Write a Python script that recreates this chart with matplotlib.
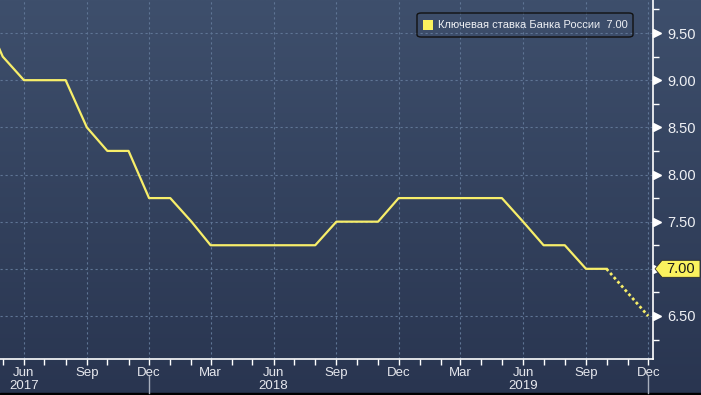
import datetime as dt
import numpy as np
import matplotlib
matplotlib.use("Agg")
import matplotlib.pyplot as plt
import matplotlib.dates as mdates
import matplotlib.transforms as mtransforms
from matplotlib.patches import FancyBboxPatch, Polygon, Rectangle

plt.rcParams['font.family'] = ['Liberation Sans Narrow', 'Liberation Sans', 'DejaVu Sans']

# ключевая ставка, помесячно (на начало месяца)
months = ["2017-04", "2017-05", "2017-06", "2017-07", "2017-08", "2017-09", "2017-10",
          "2017-11", "2017-12", "2018-01", "2018-02", "2018-03", "2018-04", "2018-05",
          "2018-06", "2018-07", "2018-08", "2018-09", "2018-10", "2018-11", "2018-12",
          "2019-01", "2019-02", "2019-03", "2019-04", "2019-05", "2019-06", "2019-07",
          "2019-08", "2019-09", "2019-10"]
rate = [9.75, 9.25, 9.00, 9.00, 9.00, 8.50, 8.25,
        8.25, 7.75, 7.75, 7.50, 7.25, 7.25, 7.25,
        7.25, 7.25, 7.25, 7.50, 7.50, 7.50, 7.75,
        7.75, 7.75, 7.75, 7.75, 7.75, 7.50, 7.25,
        7.25, 7.00, 7.00]
# прогнозная часть (пунктир)
fc_months = ["2019-10", "2019-12"]
fc_rate = [7.00, 6.50]

last_value = 7.00
legend_label = "Ключевая ставка Банка России"
yticks = [6.5, 7.0, 7.5, 8.0, 8.5, 9.0, 9.5]
year_labels = ["2017", "2018", "2019"]

def to_dates(lst):
    return [dt.datetime.strptime(m, "%Y-%m") for m in lst]

x = to_dates(months)
xf = to_dates(fc_months)

W, H = 701, 395
fig = plt.figure(figsize=(W / 100, H / 100), dpi=100)

# фон с градиентом
bg = fig.add_axes([0, 0, 1, 1], zorder=-10)
grad = np.linspace(0, 1, 256).reshape(-1, 1)
top_c = np.array([62, 79, 108]) / 255
bot_c = np.array([41, 53, 80]) / 255
img = top_c * (1 - grad[..., None]) + bot_c * grad[..., None]
img = np.repeat(img, 2, axis=1)
bg.imshow(img, aspect='auto', extent=[0, 1, 0, 1])
bg.add_patch(Rectangle((0, 0), 1, 2 / H, color='black', transform=bg.transAxes))
bg.set_axis_off()

ax = fig.add_axes([0, (H - 359) / H, 653 / W, 359 / H])
ax.patch.set_alpha(0)

ax.plot(x, rate, color='#f7ee6a', lw=1.6, zorder=3)
ax.plot(xf, fc_rate, color='#f7ee6a', lw=2.0, ls=(0, (1, 1)), zorder=3)

ax.set_xlim(dt.datetime(2017, 4, 27), dt.datetime(2019, 12, 8))
ax.set_ylim(6.044, 9.85)

# оси
for s in ['left', 'top']:
    ax.spines[s].set_visible(False)
ax.spines['bottom'].set_color('white')
ax.spines['right'].set_color('white')
ax.spines['bottom'].set_linewidth(1.2)
ax.spines['right'].set_linewidth(1.2)

ax.xaxis.set_major_locator(mdates.MonthLocator(bymonth=[3, 6, 9, 12]))
ax.xaxis.set_minor_locator(mdates.MonthLocator())
ax.xaxis.set_major_formatter(mdates.DateFormatter('%b'))
ax.tick_params(axis='x', which='both', direction='out', length=4, width=1,
               color='white', labelcolor='#e6e8ee', labelsize=9.5, pad=1.5)

ax.yaxis.tick_right()
ax.set_yticks(yticks)
ax.set_yticklabels(["%.2f" % v for v in yticks])
ax.set_yticks(np.arange(6.25, 9.8, 0.5), minor=True)
ax.tick_params(axis='y', which='major', length=0, pad=10, labelcolor='#eef0f4', labelsize=10.5)
ax.tick_params(axis='y', which='minor', direction='out', length=4, width=1, color='white')

ax.grid(True, which='major', color='#5f7595', ls=(0, (2, 2.5)), lw=0.8)

# треугольные метки делений справа
tr = mtransforms.blended_transform_factory(ax.transAxes, ax.transData)
tr = mtransforms.offset_copy(tr, fig=fig, x=3.5, y=0, units='dots')
ax.plot([1.0] * len(yticks), yticks, ls='none', marker='>', ms=6, color='white',
        transform=tr, clip_on=False, zorder=5)

# годы под осью и разделители
for yr in year_labels:
    ax.annotate(yr, xy=(dt.datetime(int(yr), 6, 1), 0), xycoords=('data', 'axes fraction'),
                xytext=(0, -27), textcoords='offset pixels', ha='center', va='center',
                color='#e6e8ee', fontsize=9.5)
sep_tr = mtransforms.blended_transform_factory(ax.transData, fig.transFigure)
for yr in [2017, 2019]:
    ax.plot([dt.datetime(yr, 12, 1)] * 2, [1 - 376 / H, 2 / H], color='#a8afbd', lw=1,
            transform=sep_tr, clip_on=False)

# метка последнего значения
lab_tr = mtransforms.blended_transform_factory(fig.transFigure, ax.transData)
y0 = last_value
hh = 0.09
px = 1 / W
poly = Polygon([(655 * px, y0), (662 * px, y0 + hh), (700 * px, y0 + hh),
                (700 * px, y0 - hh), (662 * px, y0 - hh)], closed=True,
               facecolor='#fbf25e', edgecolor='#2a2a2a', lw=0.6,
               transform=lab_tr, clip_on=False, zorder=6)
ax.add_patch(poly)
ax.text(681 * px, y0, "%.2f" % last_value, transform=lab_tr, ha='center', va='center',
        fontsize=10.5, color='#1a1a1a', zorder=7, clip_on=False)

# легенда
box = FancyBboxPatch((417 / W, 1 - 37 / H), 216 / W, 24 / H,
                     boxstyle='round,pad=0,rounding_size=0.006',
                     transform=fig.transFigure, facecolor='none', edgecolor='#111111',
                     lw=1.0, zorder=8)
fig.patches.append(box)
fig.patches.append(Rectangle((423 / W, 1 - 30 / H), 10 / W, 10 / H,
                             transform=fig.transFigure, facecolor='#fbf25e',
                             edgecolor='none', zorder=9))
fig.text(438 / W, 1 - 25 / H, legend_label + "  %.2f" % last_value, ha='left',
         va='center', color='#eef0f4', fontsize=8)

fig.savefig("out.png", dpi=100)
